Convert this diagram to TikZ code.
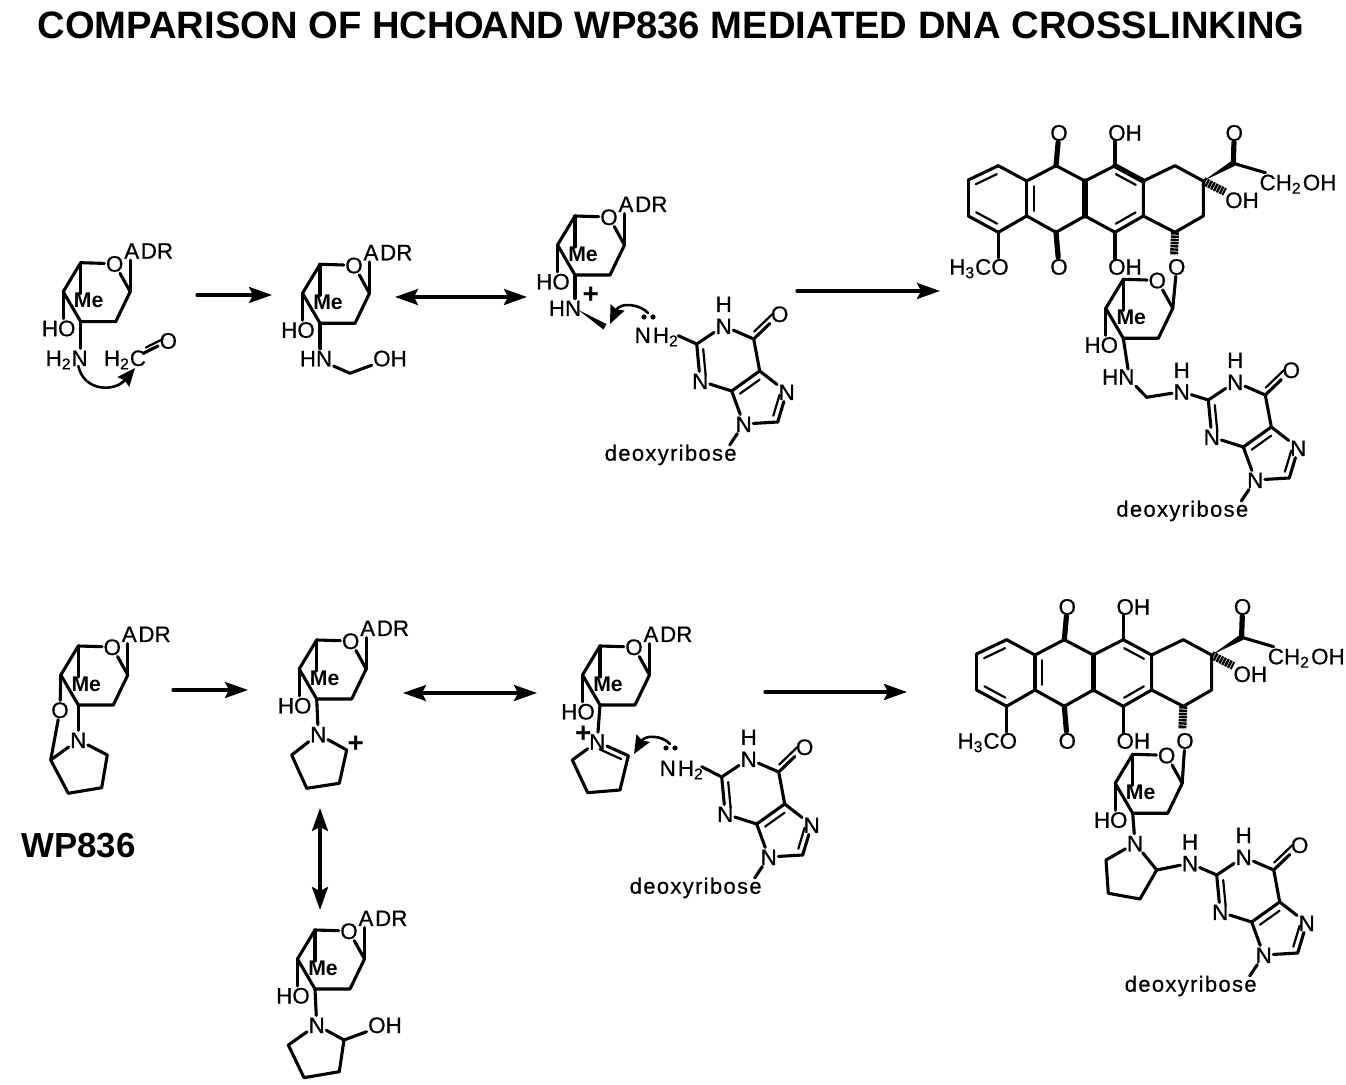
\documentclass[tikz,border=0pt]{standalone}
\usepackage{fontspec}
\setmainfont{Liberation Sans}
\newfontfamily\chemfont[FakeBold=.6]{Liberation Sans}
\newfontfamily\riboseface[FakeBold=.6,LetterSpace=6]{Liberation Sans}
\usetikzlibrary{arrows.meta,calc}
\newcommand\dbl[3][3.5pt]{%
  \draw (#2) -- (#3);
  \draw[line width=1.1pt] ($(#2)!.15!(#3)!#1!90:(#3)$) -- ($(#3)!.15!(#2)!#1!-90:(#2)$);}
\newcommand\adr[1]{%
  \node[lab] (#1-a) at ($(#1-c3)+(68,-71)$) {A\kern.8pt DR};
  \draw (#1-r) -- (#1-r |- #1-a.south);}
\newcommand\hox[1]{%
  \node[lab] (#1-ho) at ($(#1-c3)+(-22,6.5)$) {HO};
  \draw (#1-l) -- (#1-l |- #1-ho.north);}
\tikzset{
  lab/.style={inner sep=0pt,text height=8pt,text depth=0pt,font=\chemfont\fontsize{11.2}{12}\selectfont},
  melab/.style={inner sep=0pt,font=\bfseries\fontsize{10.6}{12}\selectfont},
  ribose/.style={inner sep=0pt,font=\riboseface\fontsize{11}{12}\selectfont},
  charge/.style={inner sep=0pt,font=\bfseries\fontsize{14}{14}\selectfont},
  heavy/.style={line width=2.6pt},
  hash/.style={line cap=butt,line width=4pt,dash pattern=on 1.2pt off .4pt},
  rxn/.style={-{Stealth[length=11.5pt,width=8pt,inset=2pt]}},
  both/.style={{Stealth[length=11.5pt,width=8pt,inset=2pt]}-{Stealth[length=11.5pt,width=8pt,inset=2pt]}},
  curvearrow/.style={line width=1.3pt,-{Stealth[length=9pt,width=7.5pt,inset=1pt]}},
  lonepair/.style={circle,fill,inner sep=0pt,minimum size=2.6pt},
  sugar/.pic={
    \coordinate (-c3) at (0,0);
    \coordinate (-tl) at (0,-59);
    \coordinate (-r) at (49.5,-30);
    \coordinate (-lr) at (35,0);
    \coordinate (-l) at (-17.5,-30);
    \coordinate (-me) at (0,-28);
    \node[lab] (-o) at (34,-58) {O};
    \node[melab] (-mt) at (8,-21) {Me};
    \draw (-c3) -- (-l) -- (-tl) -- (-o) -- (-r) -- (-lr) -- (-c3);
    \draw (-tl) -- (-me);
  },
  guanine/.pic={
    \coordinate (-c2) at (0,0);
    \coordinate (-c6) at (57,-5);
    \coordinate (-c5) at (63,27);
    \coordinate (-c4) at (35,47);
    \coordinate (-c8) at (81,78);
    \coordinate (-end) at (33,101);
    \node[lab] (-n1) at (27,-18) {N};
    \node[lab] (-h) at (27,-40) {H};
    \node[lab] (-o) at (83,-30) {O};
    \node[lab] (-n3) at (3.5,37) {N};
    \node[lab] (-n7) at (90,48) {N};
    \node[lab] (-n9) at (47,80) {N};
    \node[ribose] (-sugar) at (-26,111) {deoxyribose};
    \draw (-c2) -- (-n1) -- (-c6) -- (-c5) -- (-n7);
    \draw (-c4) -- (-n3);
    \draw (-c4) -- (-n9) -- (-c8);
    \draw (-n9) -- (-end);
    \dbl[2.5pt]{-c6}{-o}
    \dbl{-c5}{-c4}
    \dbl[3pt]{-c2}{-n3}
    \dbl[3pt]{-c8}{-n7}
  },
  antra/.pic={
    \coordinate (-a) at (-86.7,-15.3);
    \coordinate (-b) at (-58.3,0);
    \coordinate (-c) at (-58.3,35);
    \coordinate (-d) at (-86.7,51.3);
    \coordinate (-e) at (-116.7,35);
    \coordinate (-f) at (-116.7,-1);
    \coordinate (-g) at (-29,-15.3);
    \coordinate (-h) at (0,0);
    \coordinate (-i) at (0,35);
    \coordinate (-j) at (-29,51.3);
    \coordinate (-k) at (30,-15.3);
    \coordinate (-m) at (58.3,0);
    \coordinate (-n) at (58.3,35);
    \coordinate (-p) at (30,51.3);
    \coordinate (-q) at (90,-15.3);
    \coordinate (-s) at (118.3,0);
    \coordinate (-t) at (118.3,35);
    \coordinate (-u) at (90,51.3);
    \coordinate (-v) at (148.3,-17.7);
    \node[lab] (-o1) at (-26,-48.3) {O};
    \node[lab] (-o2) at (40,-48.3) {OH};
    \node[lab] (-o3) at (149.3,-48.3) {O};
    \node[lab] (-ch) at (213,1.3) {CH\textsubscript{2}\kern.6pt OH};
    \node[lab] (-o4) at (157,19) {OH};
    \node[lab] (-me) at (-106,85.7) {H\textsubscript{3}CO};
    \node[lab] (-o5) at (-26,85.7) {O};
    \node[lab] (-o6) at (40,85.7) {OH};
    \node[lab] (-o7) at (91.7,85.7) {O};
    \coordinate (-e2) at (30,-40);
    \coordinate (-e6) at (30,78);
    \coordinate (-e7) at (-86.7,77);
    \coordinate (-e4) at (140,11);
    \coordinate (-e5) at (89,74);
    \draw (-a) -- (-b) -- (-g) -- (-h) -- (-k);
    \draw (-m) -- (-q) -- (-s) -- (-t) -- (-u) -- (-n) -- (-m);
    \draw (-i) -- (-j) -- (-c);
    \draw (-e) -- (-f);
    \draw (-c) -- (-d);
    \draw (-i) -- (-p);
    \draw (-k) -- (-e2);
    \draw (-p) -- (-e6);
    \draw (-d) -- (-e7);
    \draw (-v) -- (-ch);
    \draw[heavy] (-h) -- (-i);
    \draw[heavy] (-g) -- (-o1);
    \draw[heavy] (-j) -- (-o5);
    \draw[heavy] (-v) -- (-o3);
    \fill (-s) -- (149.8,-15.1) -- (146.8,-20.3) -- cycle;
    \draw[hash] (-s) -- (-e4);
    \draw[hash] (-u) -- (-e5);
    \dbl{-a}{-f}
    \dbl{-e}{-d}
    \dbl{-b}{-c}
    \dbl{-m}{-k}
    \dbl{-p}{-n}
  }
}
\begin{document}
\begin{tikzpicture}[x=.5pt,y=-.5pt,line width=1.55pt,line join=round,line cap=round]
  \useasboundingbox (0,0) rectangle (1346,1085);
  \node[inner sep=0pt,font=\bfseries\fontsize{19.1}{22}\selectfont] (title) at (671,25)
    {COMPARISON OF HCHO\kern-1.5pt AND WP836 MEDIATED DNA CROSSLINKING};
  % top row
  \pic (s1) at (80.7,321.7) {sugar};
  \adr{s1}
  \hox{s1}
  \node[lab] (n1) at (66.7,358) {H\textsubscript{2}N};
  \node[lab] (c1) at (125,358) {H\textsubscript{2}C};
  \node[lab] (o1) at (168.3,340.7) {O};
  \coordinate (cc) at (144,353);
  \coordinate (p1) at (78.3,366);
  \coordinate (q1) at (135,368);
  \draw (s1-c3) -- (s1-c3 |- n1.north);
  \dbl[2pt]{cc}{o1}
  \draw[curvearrow] (p1) .. controls (84,392) and (115,392) .. (q1);

  \pic (s2) at (320,323.3) {sugar};
  \adr{s2}
  \hox{s2}
  \node[lab] (n2) at (316,358.3) {HN};
  \node[lab] (oh2) at (390,358.3) {OH};
  \coordinate (k2) at (350,373.3);
  \draw (s2-c3) -- (s2-c3 |- n2.north);
  \draw (n2) -- (k2) -- (oh2);

  \pic (s3) at (575,275) {sugar};
  \adr{s3}
  \hox{s3}
  \node[lab] (n3) at (565,308) {HN};
  \node[charge] (pl3) at (590.7,295) {+};
  \coordinate (w3) at (578.3,310);
  \draw (s3-c3) -- (s3-c3 |- n3.north);
  \fill (w3) -- (606.5,324) -- (603.5,329.5) -- cycle;
  \node[lab] (nh3) at (656.7,335) {N\kern1pt H\textsubscript{2}};
  \node[lonepair] (d3a) at (644,317) {};
  \node[lonepair] (d3b) at (653,317) {};
  \coordinate (p3) at (648,313);
  \coordinate (q3) at (610,324);
  \draw[curvearrow] (p3) .. controls (640,304) and (620,302) .. (q3);
  \pic (g1) at (696.7,344) {guanine};
  \coordinate (l3) at (678.3,335.7);
  \draw (l3) -- (g1-c2);

  \pic (a1) at (1085,181) {antra};
  \draw[heavy] (a1-k) -- (a1-m);
  \pic (s4) at (1123.3,338.3) {sugar};
  \hox{s4}
  \draw (a1-o7) -- (s4-r);
  \node[lab] (n4) at (1118.3,376.7) {HN};
  \coordinate (t4) at (1128,369);
  \coordinate (k4) at (1146.7,397.3);
  \node[lab] (n5) at (1181.7,391.7) {N};
  \node[lab] (h5) at (1181.7,370) {H};
  \pic (g3) at (1208.3,400) {guanine};
  \draw (s4-c3) -- (t4);
  \draw (n4.south east) -- (k4) -- (n5) -- (g3-c2);

  \draw[rxn] (197,295) -- (272,295);
  \draw[both] (395,297) -- (527,297);
  \draw[rxn] (797,291) -- (940,291);

  % bottom row
  \pic (s5) at (78.3,705) {sugar};
  \adr{s5}
  \node[lab] (o5) at (60,710) {O};
  \node[lab] (n6) at (78.3,740) {N};
  \coordinate (r5a) at (50.7,760);
  \coordinate (r5b) at (68.3,793.3);
  \coordinate (r5c) at (101.7,787.7);
  \coordinate (r5d) at (107.3,755);
  \draw (s5-l) -- (o5) -- (r5a);
  \draw (s5-c3) -- (n6);
  \draw (n6) -- (r5a) -- (r5b) -- (r5c) -- (r5d) -- (n6);
  \node[inner sep=0pt,font=\bfseries\fontsize{17.4}{20}\selectfont] (wp) at (78.5,846) {WP836};

  \pic (s6) at (316.7,699) {sugar};
  \adr{s6}
  \hox{s6}
  \node[lab] (n7) at (318.3,734.3) {N};
  \node[charge] (pl6) at (355.7,744) {+};
  \coordinate (r6a) at (346.7,750);
  \coordinate (r6b) at (339.3,783.3);
  \coordinate (r6c) at (306.7,788.3);
  \coordinate (r6d) at (291.7,755);
  \draw (s6-c3) -- (n7);
  \draw (n7) -- (r6a) -- (r6b) -- (r6c) -- (r6d) -- (n7);

  \pic (s7) at (315,989) {sugar};
  \adr{s7}
  \hox{s7}
  \node[lab] (n8) at (316.7,1025) {N};
  \node[lab] (oh7) at (385,1025) {OH};
  \coordinate (r7a) at (344,1040);
  \coordinate (r7b) at (339.3,1071.7);
  \coordinate (r7c) at (304,1077.7);
  \coordinate (r7d) at (288.3,1045);
  \draw (s7-c3) -- (n8);
  \draw (n8) -- (r7a) -- (r7b) -- (r7c) -- (r7d) -- (n8);
  \draw (r7a) -- (oh7);

  \pic (s8) at (600,705) {sugar};
  \adr{s8}
  \hox{s8}
  \node[lab] (n9) at (597.3,741.7) {N};
  \node[charge] (pl8) at (583.3,734.5) {+};
  \coordinate (r8a) at (628.3,755.7);
  \coordinate (r8b) at (620,790);
  \coordinate (r8c) at (587.7,792.7);
  \coordinate (r8d) at (572.3,760);
  \draw (s8-c3) -- (n9);
  \dbl[3pt]{r8a}{n9}
  \draw (r8a) -- (r8b) -- (r8c) -- (r8d) -- (n9);
  \node[lab] (nh8) at (681.7,768) {N\kern1pt H\textsubscript{2}};
  \node[lonepair] (d8a) at (666,748) {};
  \node[lonepair] (d8b) at (675,748) {};
  \coordinate (p8) at (670,744);
  \coordinate (q8) at (634,754);
  \draw[curvearrow] (p8) .. controls (662,735) and (645,735) .. (q8);
  \pic (g2) at (721.7,777) {guanine};
  \coordinate (l8) at (701.7,766.7);
  \draw (l8) -- (g2-c2);

  \pic (a2) at (1093.3,655) {antra};
  \pic (s9) at (1132.7,813.3) {sugar};
  \hox{s9}
  \draw (a2-o7) -- (s9-r);
  \node[lab] (n10) at (1135,843.3) {N};
  \coordinate (r9a) at (1156.7,870);
  \coordinate (r9b) at (1140,899);
  \coordinate (r9c) at (1108.3,893.3);
  \coordinate (r9d) at (1106,860);
  \node[lab] (n11) at (1190,863.3) {N};
  \node[lab] (h11) at (1190,841.7) {H};
  \pic (g4) at (1216.7,875) {guanine};
  \draw (s9-c3) -- (n10);
  \draw (n10) -- (r9a) -- (r9b) -- (r9c) -- (r9d) -- (n10);
  \draw (r9a) -- (n11) -- (g4-c2);

  \draw[rxn] (173,690) -- (248,690);
  \draw[both] (403,693) -- (537,693);
  \draw[rxn] (765,692) -- (907,692);
  \draw[both] (320,808) -- (320,910);
\end{tikzpicture}
\end{document}
